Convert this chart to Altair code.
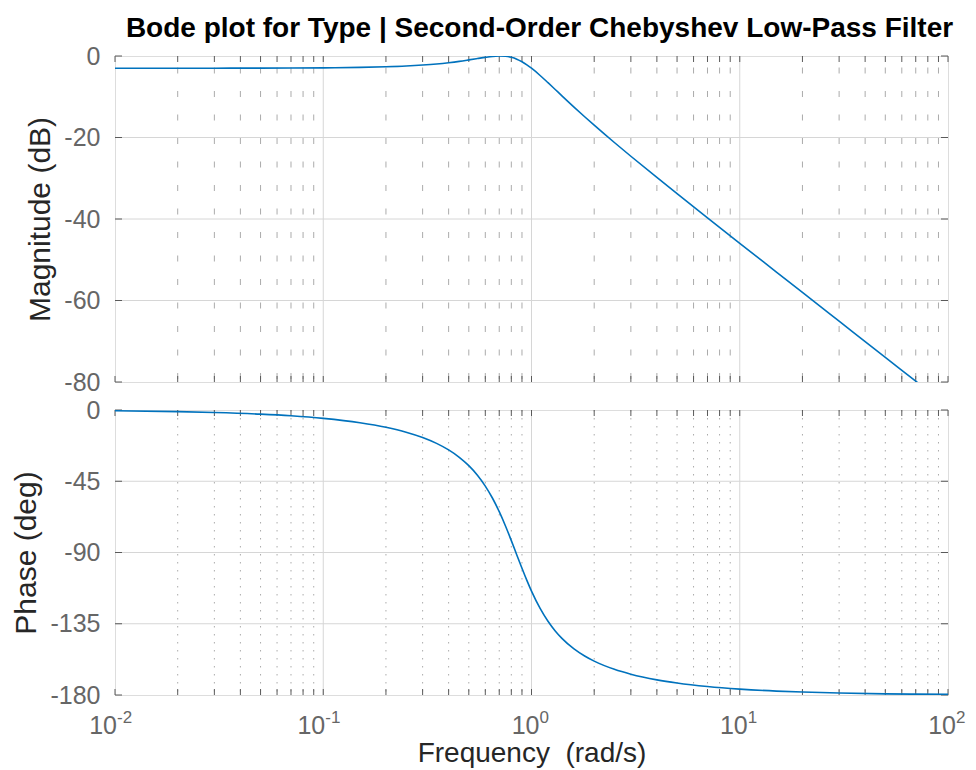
import altair as alt
import pandas as pd

# ---------------- data ----------------
freq = [0.01, 0.02, 0.03, 0.05, 0.07, 0.1, 0.15, 0.2, 0.25, 0.3, 0.35, 0.4, 0.45, 0.5, 0.55,
        0.6, 0.65, 0.7, 0.75, 0.8, 0.85, 0.9, 0.95, 1.0, 1.1, 1.2, 1.3, 1.4, 1.6, 1.8,
        2, 2.5, 3, 4, 5, 7, 10, 15, 20, 30, 50, 70, 100]
mag_db = [-3.00, -3.00, -2.99, -2.98, -2.96, -2.91, -2.80, -2.65, -2.46, -2.22, -1.95, -1.64, -1.31, -0.96, -0.63,
          -0.33, -0.10, 0.00, -0.07, -0.33, -0.78, -1.41, -2.16, -3.00, -4.78, -6.55, -8.22, -9.77, -12.53, -14.90,
          -16.97, -21.23, -24.60, -29.81, -33.79, -39.72, -45.96, -53.02, -58.03, -65.08, -73.96, -79.80, -86.00]
phase_deg = [-0.52, -1.04, -1.57, -2.62, -3.67, -5.28, -8.03, -10.93, -14.02, -17.38, -21.08, -25.21, -29.86, -35.15, -41.18,
             -48.04, -55.74, -64.23, -73.27, -82.50, -91.53, -99.98, -107.62, -114.37, -125.29, -133.42, -139.52, -144.21, -150.88, -155.37,
             -158.61, -163.78, -166.87, -170.43, -172.44, -174.66, -176.28, -177.53, -178.15, -178.77, -179.26, -179.47, -179.63]

decades = [0.01, 0.1, 1, 10, 100]
exponents = ["-2", "-1", "0", "1", "2"]
minor_ticks = [0.02, 0.03, 0.04, 0.05, 0.06, 0.07, 0.08, 0.09,
               0.2, 0.3, 0.4, 0.5, 0.6, 0.7, 0.8, 0.9,
               2, 3, 4, 5, 6, 7, 8, 9,
               20, 30, 40, 50, 60, 70, 80, 90]
mag_ticks = [0, -20, -40, -60, -80]
phase_ticks = [0, -45, -90, -135, -180]

# ---------------- style ----------------
FONT = "Liberation Sans"
W, H1, H2 = 833, 326, 285
BOX = "#5a5a5a"
LINE = "#0072BD"
MAJOR = "#d6d6d6"
MINOR = "#ababab"
TICKLEN = 6


def panel(values, ydomain, yticks, H, ytitle, xaxis, dash, dash_offset, extra=()):
    xs = alt.Scale(type="log", domain=[0.01, 100], nice=False)
    ys = alt.Scale(domain=ydomain, nice=False, zero=False)
    yaxis = alt.Axis(values=yticks, labelExpr="datum.value + ''", grid=False, ticks=False,
                     domain=False, labelPadding=15, labelFontSize=25, labelColor="#666666",
                     labelFont=FONT, title=ytitle, titleFont=FONT, titleFontSize=30,
                     titleFontWeight="normal", titleColor="#262626", titlePadding=8)

    def X():
        return alt.X("f:Q", scale=xs, axis=xaxis)

    def Y():
        return alt.Y("v:Q", scale=ys, axis=yaxis)

    minor_df = pd.DataFrame({"f": minor_ticks})
    major_df = pd.DataFrame({"f": decades[1:-1]})
    xt_df = pd.DataFrame({"f": decades + minor_ticks})
    yg_df = pd.DataFrame({"v": yticks[1:-1]})
    yt_df = pd.DataFrame({"v": yticks})
    line_df = pd.DataFrame({"f": freq, "v": values})

    minor_rule = alt.Chart(minor_df).mark_rule(color=MINOR, strokeWidth=1, strokeDash=dash,
                                               strokeDashOffset=dash_offset).encode(
        x=X(), y=alt.value(0), y2=alt.value(H))
    major_rule = alt.Chart(major_df).mark_rule(color=MAJOR, strokeWidth=1).encode(
        x=X(), y=alt.value(0), y2=alt.value(H))
    ygrid = alt.Chart(yg_df).mark_rule(color=MAJOR, strokeWidth=1).encode(
        y=Y(), x=alt.value(0), x2=alt.value(W))
    xt_bottom = alt.Chart(xt_df).mark_rule(color=BOX, strokeWidth=1).encode(
        x=X(), y=alt.value(H - TICKLEN), y2=alt.value(H))
    xt_top = alt.Chart(xt_df).mark_rule(color=BOX, strokeWidth=1).encode(
        x=X(), y=alt.value(0), y2=alt.value(TICKLEN))
    yt_left = alt.Chart(yt_df).mark_rule(color=BOX, strokeWidth=1).encode(
        y=Y(), x=alt.value(0), x2=alt.value(TICKLEN + 1))
    yt_right = alt.Chart(yt_df).mark_rule(color=BOX, strokeWidth=1).encode(
        y=Y(), x=alt.value(W - TICKLEN - 1), x2=alt.value(W))
    line = alt.Chart(line_df).mark_line(color=LINE, strokeWidth=1.6, clip=True,
                                        interpolate="monotone").encode(x=X(), y=Y())

    layers = [minor_rule, major_rule, ygrid, xt_bottom, xt_top, yt_left, yt_right, line]
    layers += [e(X) for e in extra]
    return alt.layer(*layers).properties(width=W, height=H)


# x tick labels (10 with superscript exponent) for the bottom panel
lab_df = pd.DataFrame({"f": decades, "b": ["10"] * 5, "e": exponents})


def base_text(X):
    return alt.Chart(lab_df).transform_filter("datum.f < 1").mark_text(
        align="right", baseline="alphabetic", fontSize=25, font=FONT, color="#666666", dx=2
    ).encode(x=X(), y=alt.value(H2 + 39), text="b:N")


def base_text2(X):
    return alt.Chart(lab_df).transform_filter("datum.f >= 1").mark_text(
        align="right", baseline="alphabetic", fontSize=25, font=FONT, color="#666666", dx=8
    ).encode(x=X(), y=alt.value(H2 + 39), text="b:N")


def exp_text(X):
    return alt.Chart(lab_df).transform_filter("datum.f < 1").mark_text(
        align="left", baseline="alphabetic", fontSize=17, font=FONT, color="#666666", dx=2
    ).encode(x=X(), y=alt.value(H2 + 28), text="e:N")


def exp_text2(X):
    return alt.Chart(lab_df).transform_filter("datum.f >= 1").mark_text(
        align="left", baseline="alphabetic", fontSize=17, font=FONT, color="#666666", dx=8
    ).encode(x=X(), y=alt.value(H2 + 28), text="e:N")


bottom_xaxis = alt.Axis(labels=False, ticks=False, domain=False, grid=False,
                        title="Frequency \u00a0(rad/s)", titleFont=FONT, titleFontSize=28,
                        titleFontWeight="normal", titleColor="#262626", titlePadding=44)

top = panel(mag_db, [-80, 0], mag_ticks, H1, "Magnitude (dB)", None, [6, 17.5], 12).properties(
    title=alt.TitleParams("Bode plot for Type | Second-Order Chebyshev Low-Pass Filter",
                          font=FONT, fontSize=28, fontWeight="bold", color="#000000",
                          anchor="middle", frame="group", offset=1, dx=8))
bottom = panel(phase_deg, [-180, 0], phase_ticks, H2, "Phase (deg)", bottom_xaxis, [1.5, 6.5], 0,
               extra=(base_text, base_text2, exp_text, exp_text2))

chart = alt.vconcat(top, bottom, spacing=1).properties(
    padding={"left": 3, "top": 6, "right": 2, "bottom": 0}
).configure_view(stroke=BOX, strokeWidth=1).configure(background="white")

chart.save("out.html", embed_options={"renderer": "svg", "actions": False})
